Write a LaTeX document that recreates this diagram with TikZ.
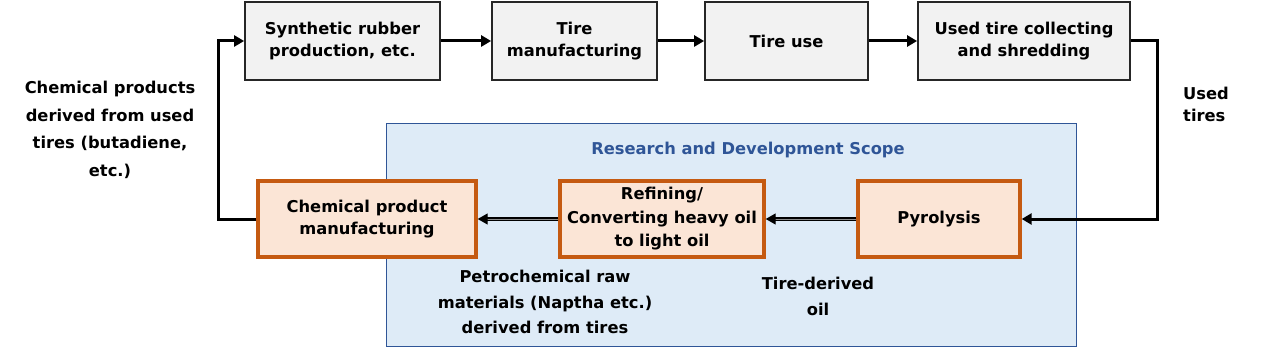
\documentclass[tikz,border=0pt]{standalone}
\usepackage{fontspec}
\setmainfont{DejaVu Sans}
\usetikzlibrary{arrows.meta}
\definecolor{topfill}{HTML}{F2F2F2}
\definecolor{scopefill}{HTML}{DEEBF7}
\definecolor{scopeline}{HTML}{2F5597}
\definecolor{orfill}{HTML}{FBE5D6}
\definecolor{orline}{HTML}{C55A11}
\begin{document}
\begin{tikzpicture}[x=1pt,y=-1pt,
  every node/.style={font=\fontsize{16.3}{21.5}\selectfont\bfseries, inner sep=0pt},
  topbox/.style={draw=black!85, line width=1.8pt, fill=topfill, minimum height=78pt, align=center},
  orbox/.style={draw=orline, line width=3.4pt, fill=orfill, minimum height=76pt, align=center},
  flow/.style={line width=3pt, -{Triangle[length=10pt,width=11pt]}},
  dflow/.style={line width=1.3pt, double=black!45, double distance=0.9pt, -{Triangle[length=10pt,width=11pt,fill=black]}},
  lbl/.style={align=center}
]
\useasboundingbox (0,0) rectangle (1274,350);
% scope
\node[draw=scopeline, line width=1pt, fill=scopefill, minimum width=690pt, minimum height=223pt, anchor=north west] (scope) at (386,123) {};
\node[text=scopeline] (scopet) at (748,150) {Research and Development Scope};
% top row
\node[topbox, minimum width=195pt] (b1) at (342.5,41) {Synthetic rubber\\production, etc.};
\node[topbox, minimum width=165pt] (b2) at (574.5,41) {Tire\\manufacturing};
\node[topbox, minimum width=163pt] (b3) at (786.5,41) {Tire use};
\node[topbox, minimum width=212pt] (b4) at (1024,41) {Used tire collecting\\and shredding};
% bottom row
\node[orbox, minimum width=218pt] (chem) at (367,219) {Chemical product\\manufacturing};
\node[orbox, minimum width=204pt, font=\fontsize{16.3}{23.5}\selectfont\bfseries] (ref) at (662,219) {Refining/\\Converting heavy oil\\to light oil};
\node[orbox, minimum width=162pt] (pyro) at (939,219) {Pyrolysis};
% labels
\node[lbl, font=\fontsize{16.3}{27.7}\selectfont\bfseries] (lchem) at (110,130) {Chemical products\\derived from used\\tires (butadiene,\\etc.)};
\node[align=left, anchor=west, font=\fontsize{16.3}{22}\selectfont\bfseries] (lused) at (1183,104) {Used\\tires};
\node[lbl, font=\fontsize{16.3}{25.5}\selectfont\bfseries] (lpetro) at (545,302) {Petrochemical raw\\materials (Naptha etc.)\\derived from tires};
\node[lbl, font=\fontsize{16.3}{26}\selectfont\bfseries] (loil) at (818,296) {Tire-derived\\oil};
% arrows
\draw[flow] (b1) -- (b2);
\draw[flow] (b2) -- (b3);
\draw[flow] (b3) -- (b4);
\draw[flow] (b4.east) -- ++(27,0) |- (pyro.east);
\draw[flow] (chem.west) -- ++(-38,0) |- (b1.west);
\draw[dflow] (pyro) -- (ref);
\draw[dflow] (ref) -- (chem);
\end{tikzpicture}
\end{document}
